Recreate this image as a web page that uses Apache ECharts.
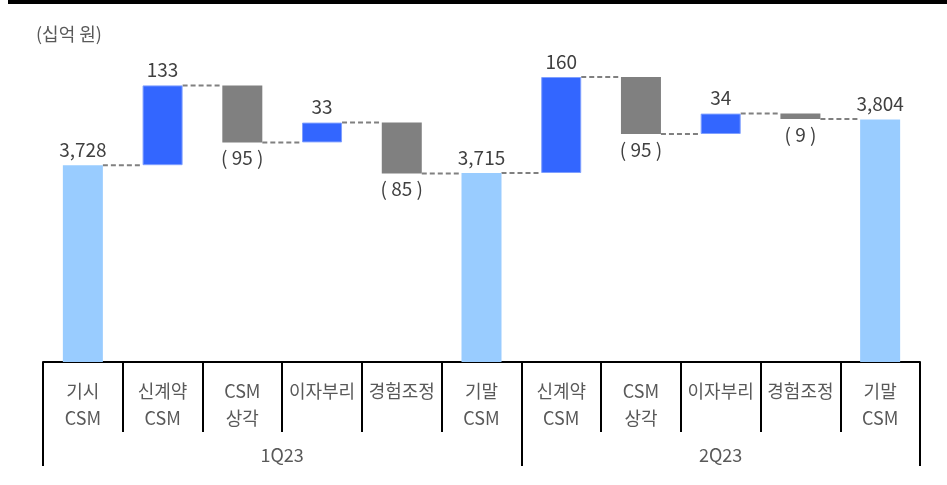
<!DOCTYPE html>
<html>
<head>
<meta charset="utf-8">
<script src="https://cdn.jsdelivr.net/npm/echarts@6/dist/echarts.min.js"></script>
<style>
  html, body { margin: 0; padding: 0; background: #fff; }
  #chart { width: 947px; height: 485px; }
</style>
</head>
<body>
<div id="chart"></div>
<script>
// 데이터
const categories = ['기시\nCSM', '신계약\nCSM', 'CSM\n상각', '이자부리', '경험조정', '기말\nCSM',
                    '신계약\nCSM', 'CSM\n상각', '이자부리', '경험조정', '기말\nCSM'];
const values = [3728, 133, -95, 33, -85, 3715, 160, -95, 34, -9, 3804];
const kinds = ['total', 'up', 'down', 'up', 'down', 'total', 'up', 'down', 'up', 'down', 'total'];
const groups = ['1Q23', '2Q23'];
const groupSpans = [6, 5];
const unitLabel = '(십억 원)';

const colors = { total: '#99CCFF', up: '#3366FF', down: '#808080' };
const font = '"Noto Sans CJK KR", "Noto Sans", sans-serif';

// 폭포 차트 계산
const bases = [];
const heights = [];
const levels = [];
let running = 0;
values.forEach((v, i) => {
    if (kinds[i] === 'total') {
        bases.push(0);
        heights.push(v);
        running = v;
    } else {
        bases.push(Math.min(running, running + v));
        heights.push(Math.abs(v));
        running += v;
    }
    levels.push(running);
});

const fmt = (v, kind) => kind === 'down' ? '( ' + Math.abs(v) + ' )' : v.toLocaleString('en-US');

// 그룹 경계
const groupBounds = [0];
groupSpans.forEach(s => groupBounds.push(groupBounds[groupBounds.length - 1] + s));
const groupCenters = groups.map((g, i) => (groupBounds[i] + groupBounds[i + 1]) / 2);
const catBounds = categories.map((c, i) => i).concat([categories.length]);

const chart = echarts.init(document.getElementById('chart'));

const BAR_W = 40;

chart.setOption({
    animation: false,
    textStyle: { fontFamily: font },
    title: {
        text: unitLabel,
        left: 31, top: 20,
        textStyle: { fontSize: 18, fontWeight: 'normal', color: '#595959', fontFamily: font }
    },
    graphic: [{
        type: 'rect',
        shape: { x: 8, y: 0, width: 939, height: 4 },
        style: { fill: '#000' }
    }],
    grid: { left: 43, right: 27, top: 62, bottom: 123 },
    xAxis: [{
        type: 'category',
        data: categories,
        boundaryGap: true,
        axisLine: { lineStyle: { color: '#000', width: 2 } },
        axisTick: { show: false },
        axisLabel: {
            interval: 0, margin: 16, fontSize: 18, lineHeight: 27,
            color: '#595959', fontFamily: font, verticalAlign: 'top'
        }
    }, {
        // 항목 구분선
        type: 'value',
        min: 0, max: categories.length,
        position: 'bottom',
        axisLine: { show: false },
        splitLine: { show: false },
        axisTick: {
            show: true, length: 70, customValues: catBounds,
            lineStyle: { color: '#000', width: 2 }
        },
        axisLabel: { show: false }
    }, {
        // 분기 구분
        type: 'value',
        min: 0, max: groupBounds[groupBounds.length - 1],
        position: 'bottom',
        offset: 70,
        axisLine: { show: false },
        splitLine: { show: false },
        axisTick: {
            show: true, length: 34, customValues: groupBounds,
            lineStyle: { color: '#000', width: 2 }
        },
        axisLabel: {
            customValues: groupCenters,
            margin: 14, fontSize: 18, color: '#595959', fontFamily: font,
            formatter: v => groups[groupCenters.indexOf(v)] || ''
        }
    }],
    yAxis: { type: 'value', min: 3400, max: 3900, show: false, splitLine: { show: false } },
    series: [{
        type: 'bar',
        stack: 'wf',
        barWidth: BAR_W,
        itemStyle: { color: 'transparent' },
        emphasis: { disabled: true },
        data: bases
    }, {
        type: 'bar',
        stack: 'wf',
        barWidth: BAR_W,
        data: heights.map((h, i) => ({
            value: h,
            itemStyle: {
                color: colors[kinds[i]],
                borderColor: kinds[i] === 'up' ? '#7f9fff' : colors[kinds[i]],
                borderWidth: kinds[i] === 'up' ? 1 : 0
            },
            label: {
                show: true,
                position: kinds[i] === 'down' ? 'bottom' : 'top',
                distance: 6,
                formatter: () => fmt(values[i], kinds[i])
            }
        })),
        label: { fontSize: 19, color: '#404040', fontFamily: font }
    }, {
        type: 'custom',
        renderItem: (params, api) => {
            const p = api.coord([api.value(0), api.value(1)]);
            const bw = api.size([1, 0])[0];
            return {
                type: 'line',
                shape: { x1: p[0] + BAR_W / 2, y1: p[1], x2: p[0] + bw - BAR_W / 2, y2: p[1] },
                style: { stroke: '#808080', lineWidth: 2, lineDash: [5, 3] }
            };
        },
        data: levels.slice(0, levels.length - 1).map((v, i) => [i, v]),
        z: 1
    }]
});
</script>
</body>
</html>
